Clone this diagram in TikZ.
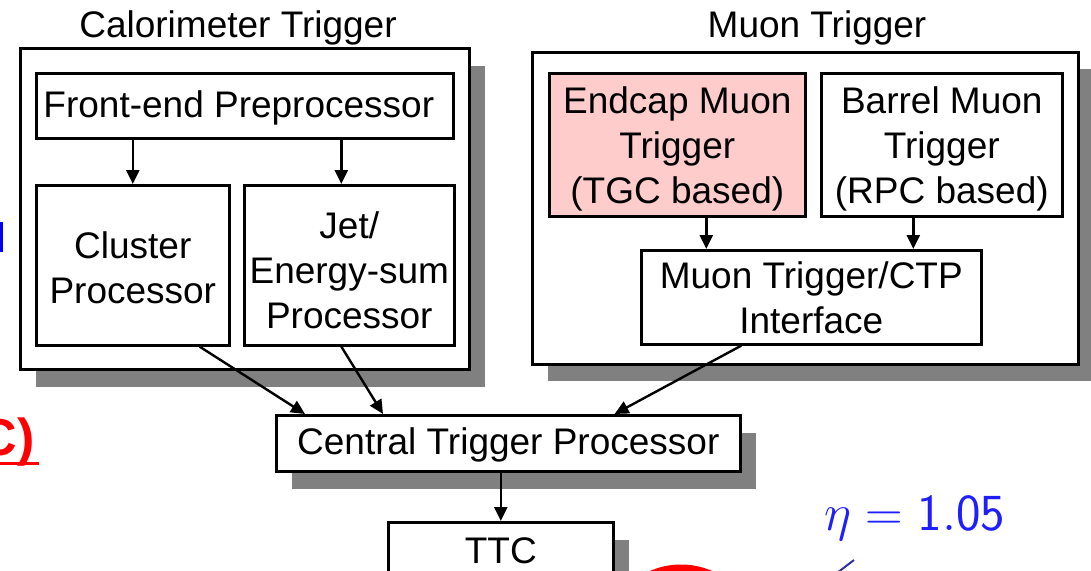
\RequirePackage{fix-cm}
\documentclass[tikz,border=0pt]{standalone}
\usepackage{fontspec}
\setmainfont{Liberation Sans}
\usetikzlibrary{arrows.meta,calc,shadows}
\definecolor{pinkfill}{RGB}{255,204,204}
\definecolor{shadowgray}{RGB}{128,128,128}
\definecolor{etablue}{RGB}{30,30,255}
\definecolor{etaline}{RGB}{50,50,160}
\newcommand{\upstrut}[1]{\rule{0pt}{#1pt}}
\begin{document}
\begin{tikzpicture}[x=1pt,y=-1pt,
  font=\fontsize{37}{45}\selectfont,
  box/.style={draw,line width=2.6pt,inner sep=0pt,align=center,anchor=north west},
  sh/.style={fill=white,drop shadow={shadow xshift=16pt,shadow yshift=-18pt,fill=shadowgray,opacity=1}},
  arr/.style={line width=2.4pt,-{Triangle[length=14pt,width=13pt]}},
  title/.style={anchor=base}]
\path[use as bounding box] (0,0) rectangle (1091,570);
\clip (0,0) rectangle (1091,570);
% Calorimeter trigger
\node[box,sh,minimum width=449pt,minimum height=321pt] (cal) at (19,47) {};
\node[title] (calt) at (238,37) {Calorimeter Trigger};
\node[box,minimum width=417pt,minimum height=65pt] (fe) at (35,72) {\upstrut{31}Front-end Preprocessor\hspace*{12pt}};
\node[box,minimum width=193pt,minimum height=160pt] (cl) at (35,184) {\upstrut{31}Cluster\\Processor};
\node[box,minimum width=210pt,minimum height=160pt] (jet) at (243,184) {\upstrut{36}Jet/\\Energy-sum\\Processor};
% Muon trigger
\node[box,fill=white,drop shadow={shadow xshift=16pt,shadow yshift=-17pt,fill=shadowgray,opacity=1},minimum width=546pt,minimum height=312pt] (mu) at (531,51) {};
\node[title] (mut) at (817,37) {Muon Trigger};
\node[box,fill=pinkfill,minimum width=256pt,minimum height=143pt] (ec) at (548,72) {\upstrut{36}Endcap Muon\\Trigger\\(TGC based)};
\node[box,minimum width=241pt,minimum height=143pt] (br) at (820,72) {\upstrut{36}Barrel Muon\\Trigger\\(RPC based)};
\node[box,minimum width=340pt,minimum height=94pt] (mi) at (640,249) {Muon Trigger/CTP\\Interface};
% CTP and TTC
\node[box,sh,minimum width=464pt,minimum height=56pt] (ctp) at (275,414) {\upstrut{31}Central Trigger Processor};
\node[box,sh,minimum width=225pt,text height=41pt,text depth=25pt] (ttc) at (387,521) {TTC};
% helper coordinates
\coordinate (jx) at ($(jet.north)+(-8,0)$);
\coordinate (ex) at ($(ec.south)+(29,0)$);
\coordinate (bx) at ($(br.south)+(-28.5,0)$);
% arrows
\draw[arr] (fe.south -| cl.north) -- (cl.north);
\draw[arr] (fe.south -| jx) -- (jx);
\draw[arr] (ex) -- (ex |- mi.north);
\draw[arr] (bx) -- (bx |- mi.north);
\draw[arr] ($(cl.south east)+(-31,0)$) -- ($(ctp.north west)+(30,0)$);
\draw[arr] ($(jet.south)+(-8,0)$) -- ($(ctp.north west)+(108,0)$);
\draw[arr] ($(mi.south)+(-70,0)$) -- ($(ctp.north east)+(-127,0)$);
\draw[arr] (ttc.north |- ctp.south) -- (ttc.north);
% fragments at the edges
\fill[blue] (0,222) rectangle (3,252);
\node[anchor=base east,text=red,font=\fontsize{52}{56}\selectfont\bfseries] (rc) at (38,455) {C)};
\draw[red,line width=3pt] ($(rc.base west)+(0,8)$) -- ($(rc.base east)+(1,8)$);
\node[anchor=base west,text=etablue,font=\fontsize{52}{56}\selectfont] (eta) at (821,530) {$\eta = \mathsf{1.05}$};
\draw[etaline,line width=2pt] (833,576) -- (854,560);
\draw[red,line width=7pt] (681,612) ellipse [x radius=58pt,y radius=44pt];
\end{tikzpicture}
\end{document}
